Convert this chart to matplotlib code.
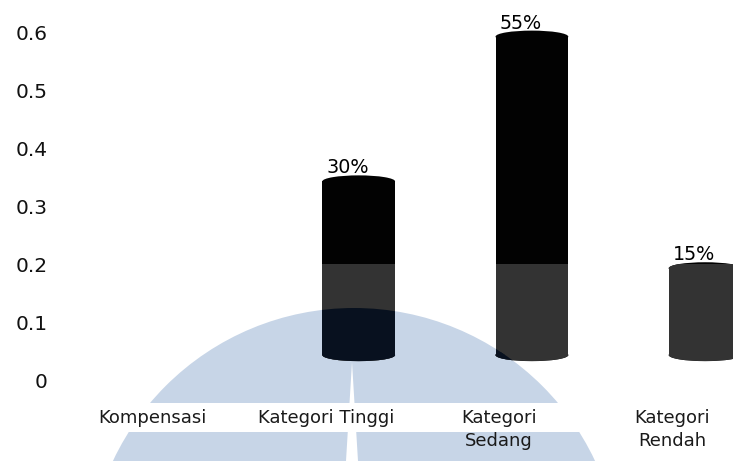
import numpy as np
import matplotlib
matplotlib.use("Agg")
import matplotlib.pyplot as plt
from matplotlib.patches import Ellipse, Rectangle, Polygon

# data
categories = ["Kompensasi", "Kategori Tinggi", "Kategori\nSedang", "Kategori\nRendah"]
values = [0.0, 0.30, 0.55, 0.15]
yticks = [0, 0.1, 0.2, 0.3, 0.4, 0.5, 0.6]
yticklabels = ["0", "0.1", "0.2", "0.3", "0.4", "0.5", "0.6"]

W, H = 733, 461
fig = plt.figure(figsize=(W / 100, H / 100), dpi=100)
ax = fig.add_axes([66 / W, (H - 380) / H, (W - 66) / W, 376.4 / H])
ax.patch.set_visible(False)
ax.set_xlim(-0.5, -0.5 + 667 / 173.2)
ax.set_ylim(0, 0.65)
for s in ax.spines.values():
    s.set_visible(False)

# watermark (figure level, behind axes)
def px(x, y):
    return (x / W, 1 - y / H)

cx, cy = px(354, 574.5)
r = 266.5
circle_col = "#c7d5e7"
fig.patches.append(Ellipse((cx, cy), 2 * r / W, 2 * r / H, transform=fig.transFigure,
                           facecolor=circle_col, edgecolor="none", zorder=-2))
fig.patches.append(Rectangle(px(0, 432), 1, (432 - 403) / H, transform=fig.transFigure,
                             facecolor="white", edgecolor="none", zorder=-1))
fig.patches.append(Polygon([px(352, 362), px(346, 461), px(358, 461)], closed=True,
                           transform=fig.transFigure, facecolor="white", edgecolor="none", zorder=-1))

clip_circle = Ellipse((cx, cy), 2 * r / W, 2 * r / H, transform=fig.transFigure)
clip_low = Rectangle((-1, -1), 10, 1.2, transform=ax.transData)

base = 0.043
off = 0.19
bw = 0.42
cap = 2 * 6 / 579


def cylinder(x, h, color, clip=None, z=2):
    arts = []
    arts += list(ax.bar(x, h, width=bw, bottom=base, color=color, linewidth=0, zorder=z))
    arts.append(ax.add_patch(Ellipse((x, base), bw, cap, facecolor=color, edgecolor="none", zorder=z)))
    arts.append(ax.add_patch(Ellipse((x, base + h), bw, cap, facecolor=color, edgecolor="none", zorder=z)))
    if clip is not None:
        for a in arts:
            a.set_clip_path(clip)


for i, v in enumerate(values):
    if v <= 0:
        continue
    x = i + off
    cylinder(x, v, "#020202", z=2)
    cylinder(x, v, "#333333", clip=clip_low, z=3)
    cylinder(x, v, "#08111f", clip=clip_circle, z=4)
    ax.text(i + 0.125, base + v + 0.014, f"{int(round(v * 100))}%", ha="center", va="baseline",
            fontsize=13.8, color="black", zorder=6)

ax.set_yticks(yticks)
ax.set_yticklabels(yticklabels, fontsize=14.5, color="#111111")
ax.set_xticks(range(len(categories)))
ax.set_xticklabels(categories, fontsize=13, color="#1a1a1a")
for t in ax.get_xticklabels():
    t.set_linespacing(1.38)
ax.tick_params(axis="y", length=0, pad=13)
ax.tick_params(axis="x", length=0, pad=21)

fig.savefig("out.png", dpi=100)
